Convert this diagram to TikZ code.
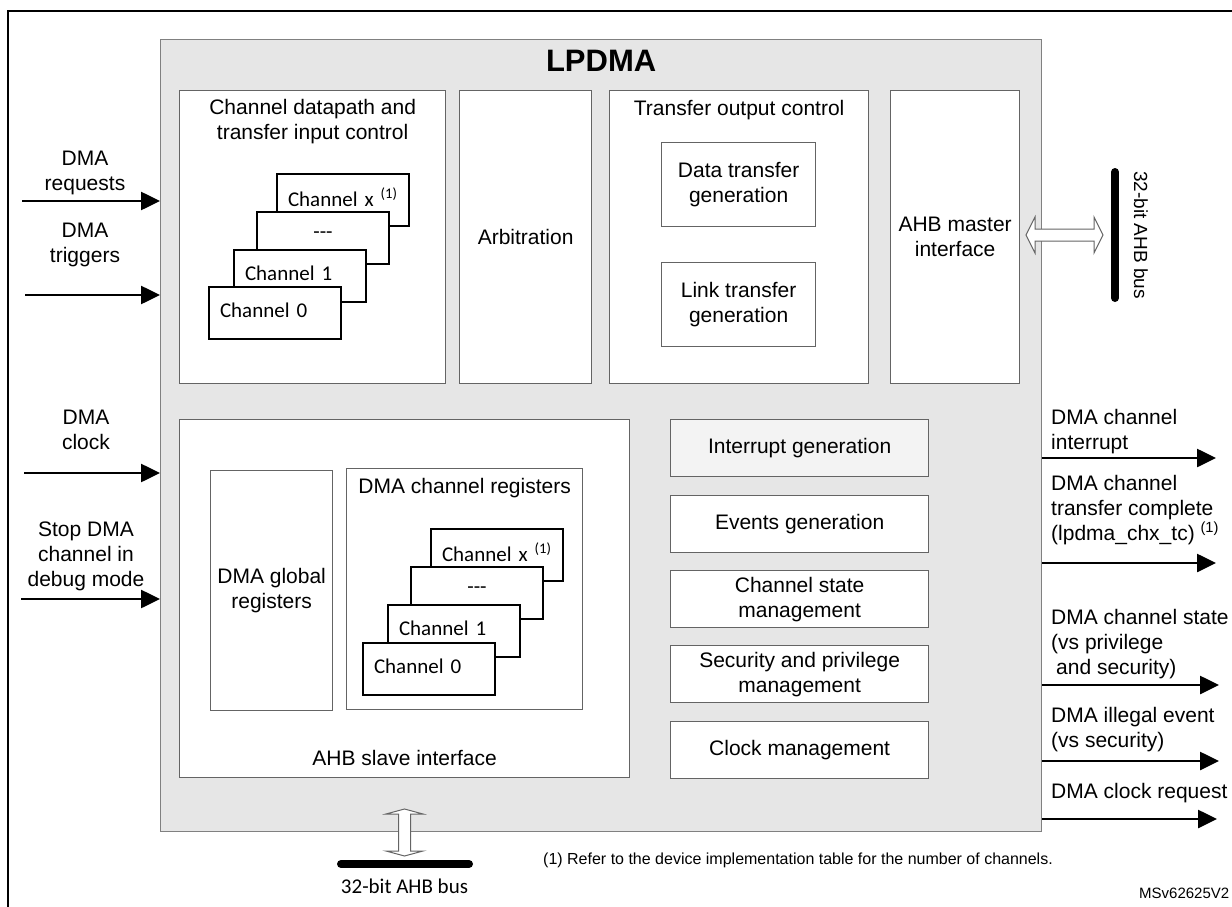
\documentclass[tikz,border=0pt]{standalone}
\usepackage{fontspec}
\setmainfont{Liberation Sans}
\newfontfamily\calfont{Carlito}
\usepackage{tikz}
\usetikzlibrary{arrows.meta}
\definecolor{boxgray}{RGB}{230,230,230}
\definecolor{igray}{RGB}{243,243,243}
\definecolor{edge}{RGB}{100,100,100}
\tikzstyle{Block}=[rectangle, draw=edge, line width=1.3pt, fill=white, inner sep=0pt, anchor=north west, align=center]
\tikzstyle{Chan}=[rectangle, draw=black, line width=2pt, fill=white, inner sep=0pt, anchor=north west, minimum width=132pt, minimum height=52pt, text width=110pt, text depth=6pt, align=left, font=\calfont\fontsize{21}{25}\selectfont]
\tikzstyle{Func}=[Block, minimum width=258pt, minimum height=57pt]
\tikzstyle{Txt}=[inner sep=0pt, align=center]
\tikzstyle{Sig}=[line width=2.6pt, -{Triangle[length=19pt,width=18pt]}]
\tikzstyle{Bus}=[line width=8pt, line cap=round]
\tikzstyle{Hollow}=[draw=edge, line width=1pt, fill=white]

\begin{document}
\begin{tikzpicture}[x=1pt, y=-1pt, font=\fontsize{21}{25}\selectfont]
    \useasboundingbox (0,0) rectangle (1232,907);
    \clip (0,0) rectangle (1232,907);
    \draw[line width=2pt] (8,930) -- (8,11) -- (1250,11);

    \path
    (160,39) node[Block, draw=gray, fill=boxgray, minimum width=881pt, minimum height=792pt] (lpdma) {}
    (179,90) node[Block, minimum width=266pt, minimum height=293pt] (datapath) {}
    (459,90) node[Block, minimum width=132pt, minimum height=293pt] (arb) {Arbitration}
    (609,90) node[Block, minimum width=259pt, minimum height=293pt] (outctrl) {}
    (661,142) node[Block, minimum width=154pt, minimum height=84pt] (datagen) {Data transfer\\generation}
    (661,262) node[Block, minimum width=154pt, minimum height=84pt] (linkgen) {Link transfer\\generation}
    (890,90) node[Block, minimum width=129pt, minimum height=293pt] (master) {AHB master\\interface}
    (179,419) node[Block, minimum width=450pt, minimum height=358pt] (slave) {}
    (210,470) node[Block, minimum width=122pt, minimum height=240pt] (globreg) {DMA global\\registers}
    (346,468) node[Block, minimum width=236pt, minimum height=241pt] (chreg) {};

    \draw (lpdma.north) node[Txt, anchor=north, yshift=-11pt, font=\bfseries\fontsize{31}{31}\selectfont] {LPDMA};
    \draw (datapath.north) node[Txt, anchor=north, yshift=-9pt] {Channel datapath and\\transfer input control};
    \draw (outctrl.north) node[Txt, anchor=north, yshift=-10pt] {Transfer output control};
    \draw (chreg.north) node[Txt, anchor=north, yshift=-10pt] {DMA channel registers};
    \draw (slave.south) node[inner sep=0pt, anchor=base, yshift=13pt] {AHB slave interface};

    % channel stacks
    \path
    (276,173) node[Chan] (topCx) {Channel x \textsuperscript{(1)}}
    (256,211) node[Chan, align=center] (topCd) {{-}{-}{-}}
    (233,249) node[Chan] (topC1) {Channel 1}
    (208,286) node[Chan] (topC0) {Channel 0}
    (430,528) node[Chan] (botCx) {Channel x \textsuperscript{(1)}}
    (410,566) node[Chan, align=center] (botCd) {{-}{-}{-}}
    (387,604) node[Chan] (botC1) {Channel 1}
    (362,642) node[Chan] (botC0) {Channel 0};

    \path
    (670,419) node[Func, fill=igray] (intgen) {Interrupt generation}
    (670,495) node[Func] (evgen) {Events generation}
    (670,570) node[Func] (statemgmt) {Channel state\\management}
    (670,645) node[Func] (secmgmt) {Security and privilege\\management}
    (670,721) node[Func] (clkmgmt) {Clock management};

    % inputs
    \path
    (85,150.5) node[Txt, anchor=north] (lReq) {DMA\\requests}
    (85,223) node[Txt, anchor=north] (lTrig) {DMA\\triggers}
    (86,410) node[Txt, anchor=north] (lClk) {DMA\\clock}
    (86,522) node[Txt, anchor=north] (lStop) {Stop DMA\\channel in\\debug mode}
    coordinate (iReq) at (22,201)
    coordinate (iTrig) at (25,295)
    coordinate (iClk) at (24,473)
    coordinate (iStop) at (21,599);
    \draw[Sig] (iReq) -- (iReq -| lpdma.west);
    \draw[Sig] (iTrig) -- (iTrig -| lpdma.west);
    \draw[Sig] (iClk) -- (iClk -| lpdma.west);
    \draw[Sig] (iStop) -- (iStop -| lpdma.west);

    % outputs
    \path
    (1051,409) node[Txt, align=left, anchor=north west] (oIntL) {DMA channel\\interrupt}
    (1051,475) node[Txt, align=left, anchor=north west] (oTcL) {DMA channel\\transfer complete\\(lpdma\_chx\_tc) \textsuperscript{(1)}}
    (1051,609) node[Txt, align=left, anchor=north west] (oStL) {DMA channel state\\(vs privilege\\\hspace*{5pt}and security)}
    (1051,707) node[Txt, align=left, anchor=north west] (oIllL) {DMA illegal event\\(vs security)}
    (1051,783) node[Txt, align=left, anchor=north west] (oClkL) {DMA clock request}
    coordinate (oInt) at (1216,458)
    coordinate (oTc) at (1216,563)
    coordinate (oSt) at (1219,685)
    coordinate (oIll) at (1219,761)
    coordinate (oClk) at (1217,819);
    \draw[Sig] (lpdma.east |- oInt) -- (oInt);
    \draw[Sig] (lpdma.east |- oTc) -- (oTc);
    \draw[Sig] (lpdma.east |- oSt) -- (oSt);
    \draw[Sig] (lpdma.east |- oIll) -- (oIll);
    \draw[Sig] (lpdma.east |- oClk) -- (oClk);

    % buses
    \draw[Bus] (1115,172) -- (1115,298);
    \draw (1141,235) node[Txt, rotate=-90, font=\fontsize{19}{19}\selectfont] (mbus) {32-bit AHB bus};
    \draw[Hollow] (1026,235) -- (1035,217) -- (1035,229) -- (1094,229) -- (1094,217) -- (1103,235)
      -- (1094,253) -- (1094,241) -- (1035,241) -- (1035,253) -- cycle;
    \draw[Bus] (341,864) -- (469,864);
    \draw (404.5,886) node[Txt, font=\calfont\fontsize{21}{21}\selectfont] (sbus) {32-bit AHB bus};
    \draw[Hollow] (404.5,809) -- (386,814) -- (398.5,814) -- (398.5,851) -- (386,851) -- (404.5,856)
      -- (423,851) -- (410.5,851) -- (410.5,814) -- (423,814) -- cycle;

    \draw (543,860) node[inner sep=0pt, anchor=west, font=\fontsize{16}{18}\selectfont] (note) {(1) Refer to the device implementation table for the number of channels.};
    \draw (1139,893) node[inner sep=0pt, anchor=west, font=\fontsize{15}{16}\selectfont] (ref) {MSv62625V2};
\end{tikzpicture}
\end{document}
